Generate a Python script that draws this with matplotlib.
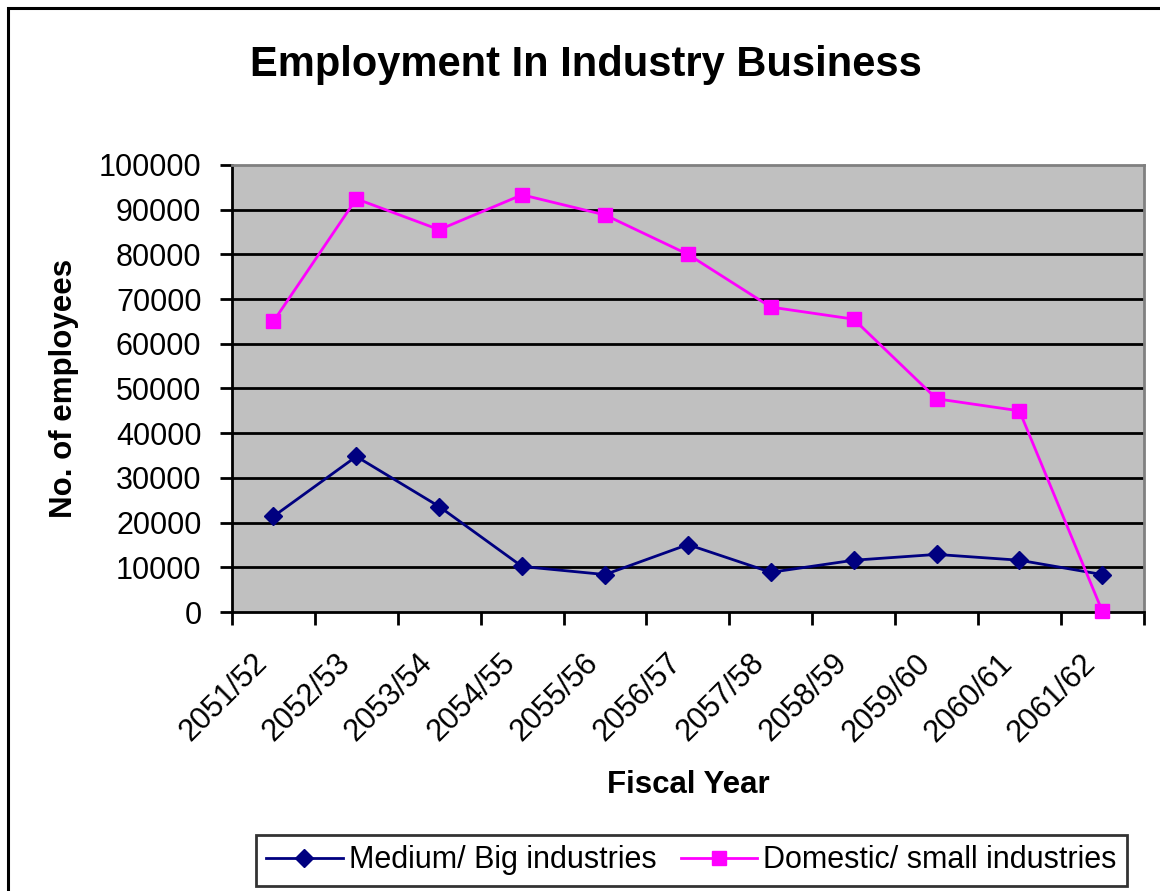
import matplotlib.pyplot as plt
from matplotlib.patches import Rectangle

plt.rcParams['font.family'] = ['Liberation Sans', 'DejaVu Sans']

years = ['2051/52', '2052/53', '2053/54', '2054/55', '2055/56', '2056/57',
         '2057/58', '2058/59', '2059/60', '2060/61', '2061/62']
medium_big = [21400, 34800, 23600, 10200, 8400, 15100, 8900, 11600, 12900, 11600, 8400]
domestic_small = [65000, 92400, 85500, 93300, 88800, 80000, 68200, 65500, 47700, 45000, 200]
y_ticks = list(range(0, 100001, 10000))

fig = plt.figure(figsize=(11.6, 8.91), dpi=100)
ax = fig.add_axes([0.2, 0.313, 0.786, 0.502])

# outer chart border
fig.patches.append(Rectangle((8 / 1160, -0.01), 1.1, 1 - 8 / 891 + 0.01,
                             transform=fig.transFigure, fill=False,
                             edgecolor='black', linewidth=2.2))

ax.set_facecolor('#c0c0c0')
x = list(range(len(years)))
ax.plot(x, medium_big, color='#000080', marker='D', markersize=9, linewidth=2,
        label='Medium/ Big industries', zorder=3)
ax.plot(x, domestic_small, color='#ff00ff', marker='s', markersize=10, linewidth=2,
        label='Domestic/ small industries', zorder=3, clip_on=False)

ax.set_xlim(-0.5, len(years) - 0.5)
ax.set_ylim(0, 100000)
ax.set_yticks(y_ticks)
ax.set_yticklabels([str(v) for v in y_ticks], fontsize=22)
for v in y_ticks[1:-1]:
    ax.axhline(v, color='black', linewidth=2, zorder=1)

# category boundaries get the tick marks, labels sit a bit left of the centres
ax.set_xticks([i - 0.5 for i in range(len(years) + 1)])
ax.set_xticklabels([])
ax.set_xticks([i - 0.26 for i in x], minor=True)
ax.set_xticklabels(years, minor=True, rotation=45, ha='right', rotation_mode='anchor',
                   fontsize=22)
ax.tick_params(axis='x', which='minor', length=0, pad=26)
ax.tick_params(axis='x', which='major', length=9, width=2, direction='out')
ax.tick_params(axis='y', length=9, width=2, direction='out', pad=13)

ax.spines['left'].set_linewidth(2)
ax.spines['bottom'].set_linewidth(2)
ax.spines['top'].set_color('#808080')
ax.spines['right'].set_color('#808080')
ax.spines['top'].set_linewidth(2)
ax.spines['right'].set_linewidth(2)

ax.set_xlabel('Fiscal Year', fontsize=22.5, fontweight='bold', labelpad=16)
ax.set_ylabel('No. of employees', fontsize=22.5, fontweight='bold', labelpad=14)
fig.text(0.505, 0.927, 'Employment In Industry Business', fontsize=30,
         fontweight='bold', ha='center', va='center')

leg = ax.legend(loc='center', bbox_to_anchor=(0.504, -0.555), ncol=2, fontsize=22,
                frameon=True, fancybox=False, edgecolor='black', handlelength=2.5,
                handletextpad=0.2, columnspacing=0.8, borderpad=0.35)
leg.get_frame().set_linewidth(2)

fig.savefig('out.png', dpi=100)
